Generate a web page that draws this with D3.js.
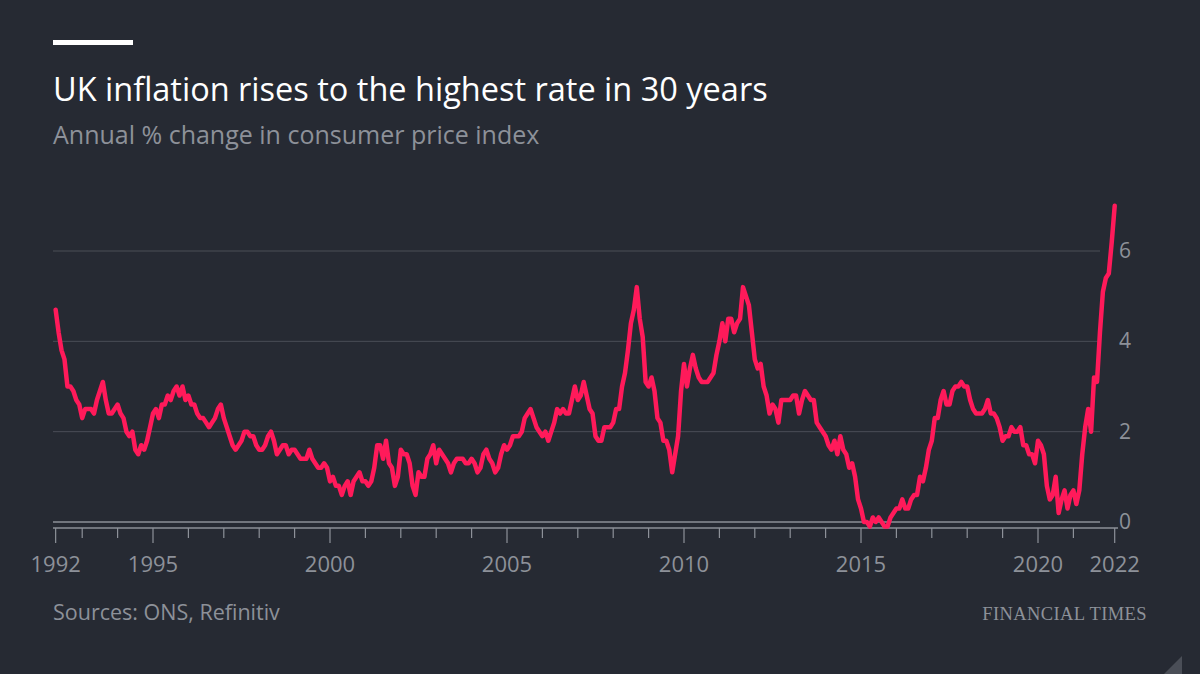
<!DOCTYPE html><html><head><meta charset="utf-8">
<script src="https://cdn.jsdelivr.net/npm/d3@7"></script>
<style>body{margin:0;background:#262a33}</style></head><body>
<svg id="c" width="1200" height="674"></svg>
<script>
const startYear = 1992, startMonth = 3; // April 1992 (0-based)
const cpi = [
4.7,4.2,3.8,3.6,3.0,3.0,2.9,2.7,2.6,
2.3,2.5,2.5,2.5,2.4,2.7,2.9,3.1,2.7,2.4,2.4,2.5,
2.6,2.4,2.3,2.0,1.9,2.0,1.6,1.5,1.7,1.6,1.8,2.1,
2.4,2.5,2.3,2.6,2.6,2.8,2.7,2.9,3.0,2.8,3.0,2.7,
2.8,2.6,2.6,2.4,2.3,2.3,2.2,2.1,2.2,2.3,2.5,2.6,
2.3,2.1,1.9,1.7,1.6,1.7,1.8,2.0,2.0,1.9,1.9,1.7,
1.6,1.6,1.7,1.9,2.0,1.8,1.5,1.6,1.7,1.7,1.5,1.6,
1.6,1.5,1.4,1.4,1.4,1.6,1.4,1.3,1.2,1.2,1.3,1.2,
0.9,1.0,0.8,0.8,0.6,0.8,0.9,0.6,0.9,1.0,1.1,0.9,
0.9,0.8,0.9,1.2,1.7,1.7,1.4,1.8,1.3,1.2,0.8,1.0,
1.6,1.5,1.5,1.3,0.8,0.6,1.1,1.0,1.0,1.4,1.5,1.7,
1.3,1.6,1.5,1.4,1.3,1.1,1.3,1.4,1.4,1.4,1.3,1.3,
1.4,1.3,1.1,1.2,1.5,1.6,1.4,1.3,1.1,1.2,1.5,1.7,
1.6,1.7,1.9,1.9,1.9,2.0,2.3,2.4,2.5,2.3,2.1,2.0,
1.9,2.0,1.8,2.0,2.2,2.5,2.4,2.5,2.4,2.4,2.7,3.0,
2.7,2.8,3.1,2.8,2.5,2.4,1.9,1.8,1.8,2.1,2.1,2.1,
2.2,2.5,2.5,3.0,3.3,3.8,4.4,4.7,5.2,4.5,4.1,3.1,
3.0,3.2,2.9,2.3,2.2,1.8,1.8,1.6,1.1,1.5,1.9,2.9,
3.5,3.0,3.4,3.7,3.4,3.2,3.1,3.1,3.1,3.2,3.3,3.7,
4.0,4.4,4.0,4.5,4.5,4.2,4.4,4.5,5.2,5.0,4.8,4.2,
3.6,3.4,3.5,3.0,2.8,2.4,2.6,2.5,2.2,2.7,2.7,2.7,
2.7,2.8,2.8,2.4,2.7,2.9,2.8,2.7,2.7,2.2,2.1,2.0,
1.9,1.7,1.6,1.8,1.5,1.9,1.6,1.5,1.2,1.3,1.0,0.5,
0.3,0.0,0.0,-0.1,0.1,0.0,0.1,0.0,-0.1,-0.1,0.1,0.2,
0.3,0.3,0.5,0.3,0.3,0.5,0.6,0.6,1.0,0.9,1.2,1.6,
1.8,2.3,2.3,2.7,2.9,2.6,2.6,2.9,3.0,3.0,3.1,3.0,
3.0,2.7,2.5,2.4,2.4,2.4,2.5,2.7,2.4,2.4,2.3,2.1,
1.8,1.9,1.9,2.1,2.0,2.0,2.1,1.7,1.7,1.5,1.5,1.3,
1.8,1.7,1.5,0.8,0.5,0.6,1.0,0.2,0.5,0.7,0.3,0.6,
0.7,0.4,0.7,1.5,2.1,2.5,2.0,3.2,3.1,4.2,5.1,5.4,
5.5,6.2,7.0];
const yTicks = [0,2,4,6];
const xLabels = [1992,1995,2000,2005,2010,2015,2020,2022];
const title = "UK inflation rises to the highest rate in 30 years";
const subtitle = "Annual % change in consumer price index";
const source = "Sources: ONS, Refinitiv";

const data = cpi.map((v,i)=>({t: startYear + (startMonth+i)/12, v}));
const t0 = data[0].t, t1 = data[data.length-1].t;
const svg = d3.select("#c");
svg.append("rect").attr("width",1200).attr("height",674).attr("fill","#262a33");
const x = d3.scaleLinear().domain([2000,2022]).range([330,330+22*35.4]);
const y = d3.scaleLinear().domain([0,6]).range([522,251]);
const font = "'Open Sans', Lato, sans-serif";

svg.append("rect").attr("x",53).attr("y",40).attr("width",80).attr("height",5).attr("fill","#fff");
svg.append("text").attr("x",53).attr("y",101).text(title).attr("fill","#fff").attr("font-family",font).attr("font-size",32.5);
svg.append("text").attr("x",53).attr("y",144).text(subtitle).attr("fill","#8d9199").attr("font-family",font).attr("font-size",25);

yTicks.forEach(d=>{
  svg.append("line").attr("x1",53).attr("x2",1100).attr("y1",y(d)).attr("y2",y(d))
    .attr("stroke", d===0?"#8d9199":"#4a4e57").attr("stroke-width", d===0?1.5:1);
  svg.append("text").attr("x",1131).attr("y",y(d)+7).attr("text-anchor","end").text(d)
    .attr("fill","#8d9199").attr("font-family",font).attr("font-size",21);
});
svg.append("line").attr("x1",53).attr("x2",1118).attr("y1",528).attr("y2",528).attr("stroke","#8d9199").attr("stroke-width",1.5);
const years = d3.range(1993,2023);
const tickTs = [t0, ...years];
tickTs.forEach(t=>{
  const yr = Math.round(t);
  const major = xLabels.includes(yr) || t===t0;
  const tx = t===t0 ? x(t0) : (yr===2022 ? x(t1) : x(t));
  svg.append("line").attr("x1",tx).attr("x2",tx).attr("y1",528).attr("y2",major?543:538)
    .attr("stroke","#8d9199").attr("stroke-width",1.2);
});
xLabels.forEach(yr=>{
  const tx = yr===1992 ? x(t0) : (yr===2022 ? x(t1) : x(yr));
  svg.append("text").attr("x",tx).attr("y",572).attr("text-anchor","middle").text(yr)
    .attr("fill","#8d9199").attr("font-family",font).attr("font-size",22);
});

const line = d3.line().x(d=>x(d.t)).y(d=>y(d.v)).curve(d3.curveLinear);
svg.append("path").datum(data).attr("d",line).attr("fill","none").attr("stroke","#ff1a5a")
  .attr("stroke-width",4.5).attr("stroke-linejoin","round").attr("stroke-linecap","round");

svg.append("text").attr("x",53).attr("y",620).text(source).attr("fill","#8d9199").attr("font-family",font).attr("font-size",21.5);
svg.append("text").attr("x",1147).attr("y",620).attr("text-anchor","end").text("FINANCIAL TIMES")
  .attr("fill","#8d9199").attr("font-family","'Liberation Serif', serif").attr("font-size",18.5).attr("letter-spacing",0.4);
svg.append("path").attr("d","M1182,656 L1182,674 L1164,674 Z").attr("fill","#4a4e57");
</script></body></html>
